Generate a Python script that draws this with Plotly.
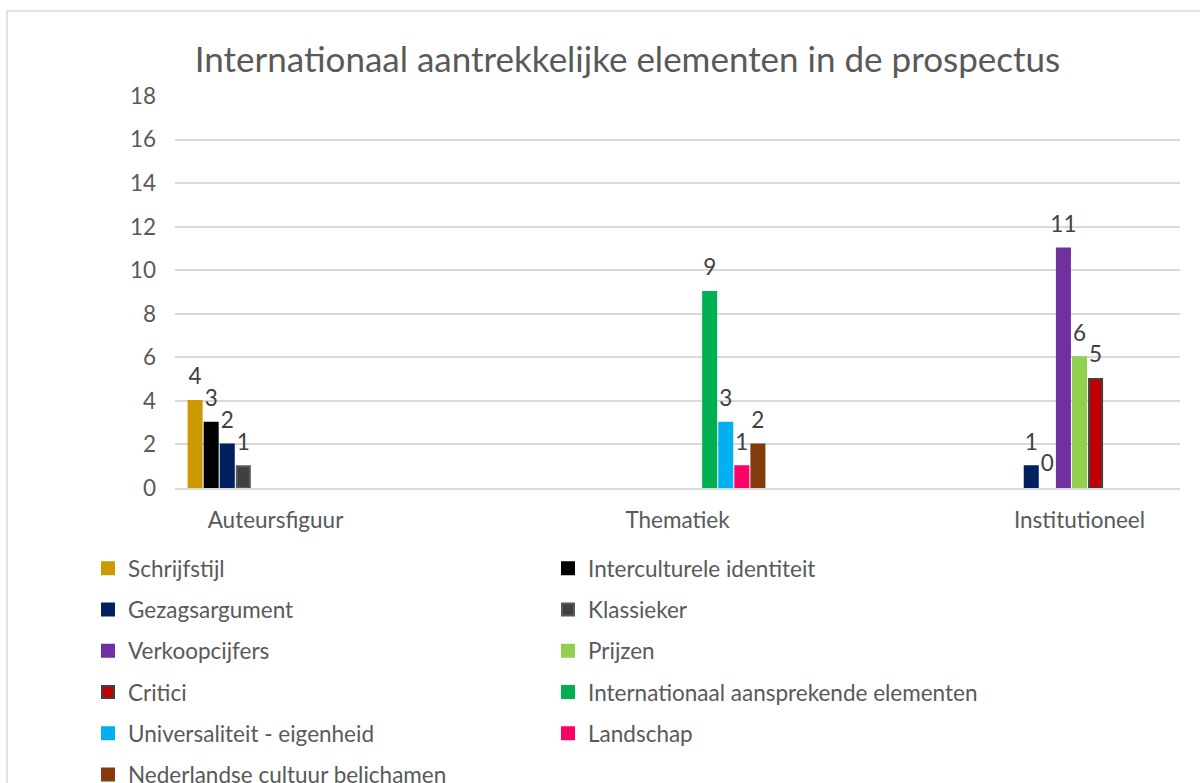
import plotly.graph_objects as go

categories = ["Auteursfiguur", "Thematiek", "Institutioneel"]

series_names = [
    "Schrijfstijl",
    "Interculturele identiteit",
    "Gezagsargument",
    "Klassieker",
    "Verkoopcijfers",
    "Prijzen",
    "Critici",
    "Internationaal aansprekende elementen",
    "Universaliteit - eigenheid",
    "Landschap",
    "Nederlandse cultuur belichamen",
]

schrijfstijl = [4, None, None]
interculturele_identiteit = [3, None, None]
gezagsargument = [2, None, 1]
klassieker = [1, None, 0]
verkoopcijfers = [None, None, 11]
prijzen = [None, None, 6]
critici = [None, None, 5]
internationaal_aansprekend = [None, 9, None]
universaliteit = [None, 3, None]
landschap = [None, 1, None]
nederlandse_cultuur = [None, 2, None]

series_values = [
    schrijfstijl, interculturele_identiteit, gezagsargument, klassieker,
    verkoopcijfers, prijzen, critici, internationaal_aansprekend,
    universaliteit, landschap, nederlandse_cultuur,
]

colors = ["#CC9900", "#000000", "#002060", "#404040", "#7030A0", "#92D050",
          "#C00000", "#00B050", "#00B0F0", "#FF0066", "#843C0C"]
line_colors = [None, None, None, "#595959", None, None, "#404040", None, None, None, None]

y_ticks = [0, 2, 4, 6, 8, 10, 12, 14, 16, 18]

FONT = "Lato"
TXT = "#595959"
SZ = 22.5
GAP = 0.56

fig = go.Figure()
for i, (name, vals) in enumerate(zip(series_names, series_values)):
    lc = line_colors[i]
    fig.add_trace(go.Bar(
        name=name,
        x=categories,
        y=vals,
        marker=dict(color=colors[i],
                    line=dict(color=lc if lc else colors[i],
                              width=[0 if v == 0 else 2 for v in vals])),
        legend="legend" if i % 2 == 0 else "legend2",
        legendgroup=name,
        hoverinfo="skip",
    ))

# data labels (grouped scatter text, aligned with the bar slots)
for i, (name, vals) in enumerate(zip(series_names, series_values)):
    fig.add_trace(go.Scatter(
        x=categories,
        y=vals,
        mode="markers+text",
        text=["" if v is None else str(v) for v in vals],
        textposition="top center",
        textfont=dict(family=FONT, size=SZ, color="#404040"),
        marker=dict(size=16, color="rgba(0,0,0,0)"),
        cliponaxis=False,
        showlegend=False,
        hoverinfo="skip",
    ))

# border
L, R, T, B = 175, 1180, 96, 488
def px_x(p):
    return (p - L) / (R - L)
def px_y(p):
    return (B - p) / (B - T)

fig.add_shape(type="rect", xref="paper", yref="paper",
              x0=px_x(7), x1=px_x(1215), y0=px_y(11), y1=px_y(800),
              line=dict(color="#D9D9D9", width=1.5), layer="below")

legend_common = dict(
    orientation="v",
    font=dict(family=FONT, size=SZ, color=TXT),
    bgcolor="rgba(0,0,0,0)",
    tracegroupgap=9,
    xref="container", yref="container",
    yanchor="top", xanchor="left",
    itemclick=False, itemdoubleclick=False,
)

fig.update_layout(
    width=1200, height=783,
    margin=dict(l=L, r=1200 - R, t=T, b=783 - B, autoexpand=False),
    paper_bgcolor="white",
    plot_bgcolor="white",
    barmode="group",
    bargap=GAP,
    bargroupgap=0.19,
    scattermode="group",
    scattergap=GAP,
    font=dict(family=FONT, size=SZ, color=TXT),
    title=dict(text="Internationaal aantrekkelijke elementen in de prospectus",
               x=627.5 / 1200, xanchor="center", xref="container",
               y=1 - 60 / 783, yanchor="middle", yref="container",
               font=dict(family=FONT, size=35, color=TXT)),
    xaxis=dict(type="category", range=[-0.25, 2.25], showline=True,
               linecolor="#D9D9D9", linewidth=1.5, showgrid=False,
               ticks="", tickfont=dict(family=FONT, size=SZ, color=TXT),
               ticklabelstandoff=11, fixedrange=True, tickangle=0),
    yaxis=dict(range=[0, 18], tickvals=y_ticks, showgrid=True,
               gridcolor="#D9D9D9", gridwidth=1.5, zeroline=False,
               showline=False, ticks="",
               tickfont=dict(family=FONT, size=SZ, color=TXT),
               ticklabelstandoff=18, fixedrange=True),
    legend=dict(x=88 / 1200, y=1 - 547 / 783, **legend_common),
    legend2=dict(x=548 / 1200, y=1 - 547 / 783, **legend_common),
    showlegend=True,
)

fig.write_html("out.html")
